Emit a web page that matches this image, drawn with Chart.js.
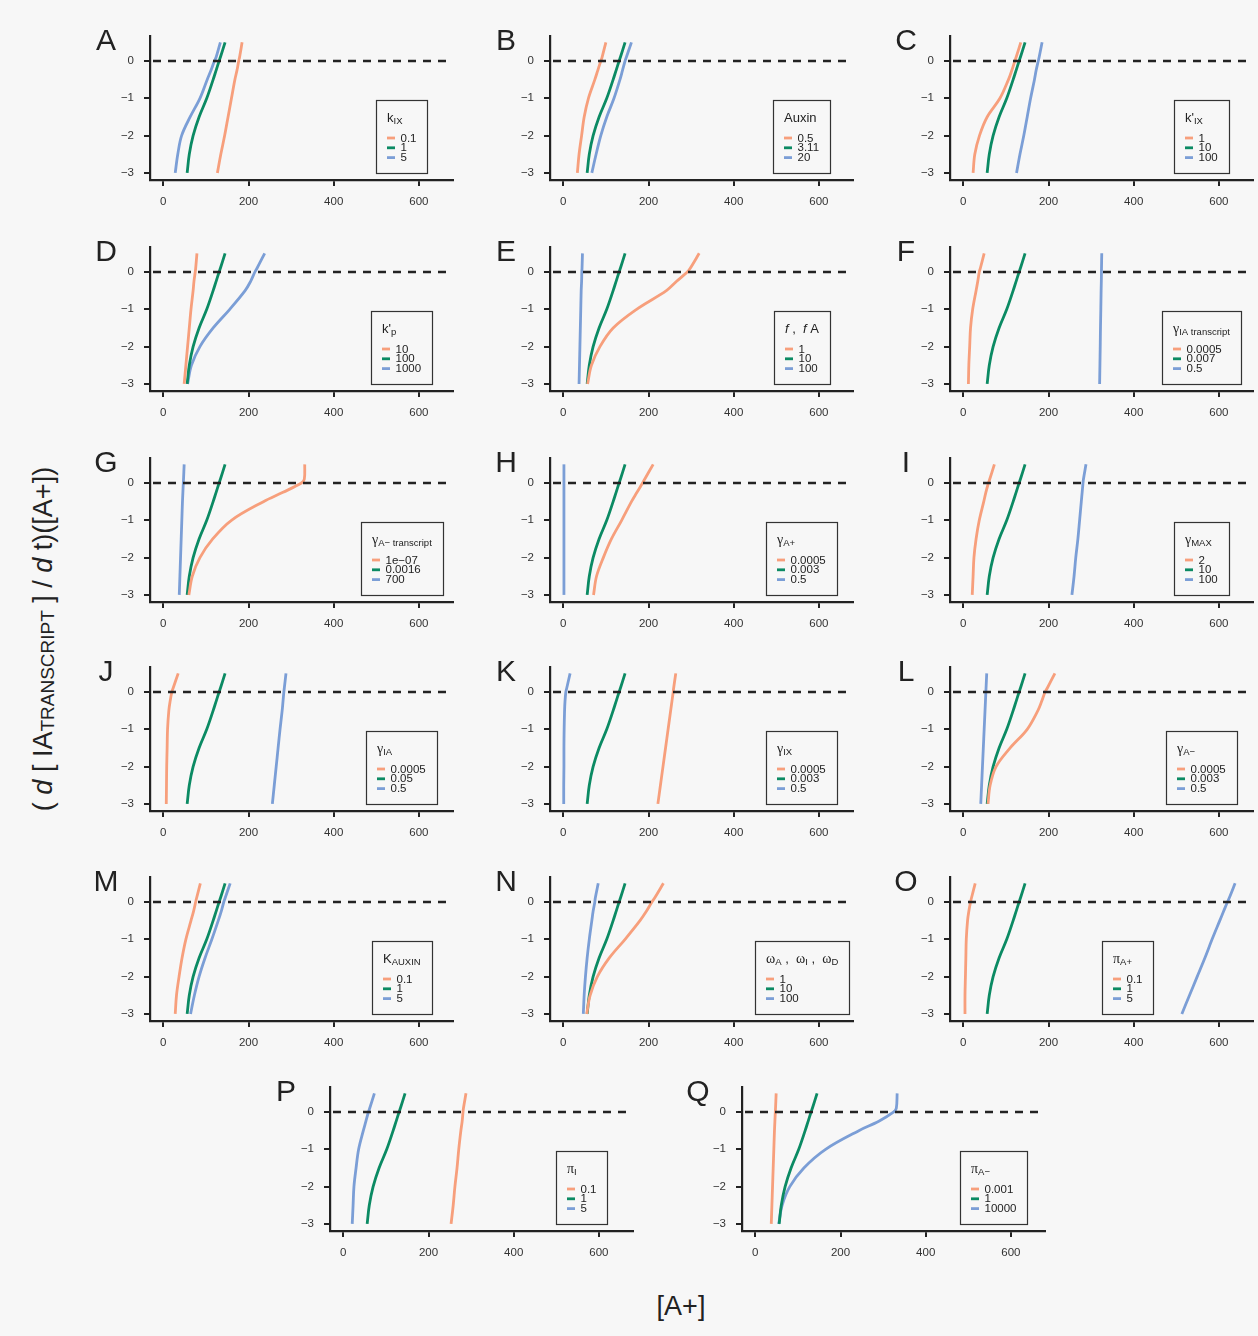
<!DOCTYPE html>
<html>
<head>
<meta charset="utf-8">
<script src="https://cdn.jsdelivr.net/npm/chart.js@4.4.1/dist/chart.umd.min.js"></script>
<style>
  body { margin: 0; background: #f7f7f7; width: 1258px; height: 1336px; position: relative; overflow: hidden; font-family: 'Liberation Sans', Arial, sans-serif; color: #222; }
  canvas { position: absolute; }
  #ylab { position: absolute; left: 43px; top: 639px; transform: translate(-50%, -50%) rotate(-90deg); white-space: nowrap; font-size: 27px; }
  #ylab .sub { font-size: 19px; vertical-align: -2px; }
  #xlab { position: absolute; left: 681px; top: 1306px; transform: translate(-50%, -50%); font-size: 27px; white-space: nowrap; }
</style>
</head>
<body>
<div id="ylab">( <i>d</i> [ IA<span class="sub">TRANSCRIPT</span> ] / <i>d</i> t)([A+])</div>
<div id="xlab">[A+]</div>
<script>
const yLevels = [-3, -2.5, -2, -1.5, -1, -0.5, -0.25, 0, 0.1, 0.5]
const xTicks = [0, 200, 400, 600]
const yTicks = [-3, -2, -1, 0]
const colors = ['#F79F7C', '#0B8A63', '#7B9ED6']

// default parameter curve (green in every panel)
const xBase = [56, 61, 70, 84, 102, 117, 124, 131, 134, 145]

const xA = [[127, 135, 144, 152, 160, 168, 173, 177, 179, 185], xBase, [28, 34, 43, 63, 86, 103, 112, 120, 124, 134]]
const xB = [[33, 37, 43, 49, 59, 74, 81, 88, 91, 100], xBase, [67, 77, 88, 102, 119, 133, 139, 145, 148, 160]]
const xC = [[23, 27, 38, 56, 86, 106, 114, 121, 124, 135], xBase, [125, 133, 142, 150, 158, 167, 171, 176, 178, 185]]
const xD = [[49, 53, 57, 61, 65, 70, 72, 75, 76, 79], xBase, [57, 66, 86, 117, 156, 192, 205, 215, 220, 238]]
const xE = [[57, 66, 86, 117, 172, 242, 266, 291, 298, 319], xBase, [37, 38, 39, 40, 41, 42, 43, 43.5, 44, 45]]
const xF = [[12, 13, 15, 17, 22, 30, 34, 37.5, 40, 49], xBase, [320, 320.7, 321.4, 322, 322.8, 323.5, 324, 324.3, 324.4, 325]]
const xG = [[60, 68, 86, 116, 160, 235, 281, 324, 331, 332], xBase, [37.5, 39, 40.5, 42, 43.5, 45, 46, 47, 47.5, 49]]
const xH = [[71, 78, 94, 113, 137, 160, 173, 186, 191, 211], xBase, [1.5, 1.5, 1.5, 1.5, 1.5, 1.5, 1.5, 1.5, 1.5, 1.5]]
const xI = [[21, 23, 25, 30, 37.5, 48, 53, 59, 62, 73], xBase, [255, 260, 264, 269, 273, 277, 279, 281, 282, 288]]
const xJ = [[7, 7.5, 8, 9, 10, 13, 16, 20, 23, 35], xBase, [256, 260.5, 265, 269.5, 274, 279, 281, 283, 284, 288]]
const xK = [[222, 228, 234, 240, 246, 252, 255, 258, 259, 264], xBase, [1, 1, 1.5, 1.5, 2, 3, 4, 6, 8, 16]]
const xL = [[58, 63, 77, 110, 150, 175, 184, 192, 197, 215], xBase, [41, 43, 45, 47, 49, 51, 52, 53, 53.4, 55]]
const xM = [[28, 31, 37, 44, 53, 65, 71, 76, 78, 87], xBase, [64, 73, 84, 98, 114, 129, 136, 142, 145, 157]]
const xN = [[55, 63, 80, 108, 145, 180, 195, 208, 214, 235], xBase, [47, 49, 52, 56, 61, 67, 70, 74, 75, 82]]
const xO = [[4, 4, 5, 6, 7, 10, 13, 17, 19, 28], xBase, [513, 531, 549, 567, 584, 602, 611, 620, 624, 638]]
const xP = [[253, 258, 262, 267, 271, 276, 279, 281, 282, 288], xBase, [21, 23, 25, 30, 36, 47, 53, 59, 62, 73]]
const xQ = [[37.5, 39, 40.5, 42, 43.5, 45, 46, 47, 47.5, 49], xBase, [55, 63, 81, 114, 165, 243, 290, 325, 331, 333]]

// legend labels
const labA = ['0.1', '1', '5']
const labB = ['0.5', '3.11', '20']
const labC = ['1', '10', '100']
const labD = ['10', '100', '1000']
const labE = ['1', '10', '100']
const labF = ['0.0005', '0.007', '0.5']
const labG = ['1e\u221207', '0.0016', '700']
const labH = ['0.0005', '0.003', '0.5']
const labI = ['2', '10', '100']
const labJ = ['0.0005', '0.05', '0.5']
const labK = ['0.0005', '0.003', '0.5']
const labL = ['0.0005', '0.003', '0.5']
const labM = ['0.1', '1', '5']
const labN = ['1', '10', '100']
const labO = ['0.1', '1', '5']
const labP = ['0.1', '1', '5']
const labQ = ['0.001', '1', '10000']

// legend titles: [text, style]  n=normal, s=subscript, g=greek, i=italic
const titleA = [['k', 'n'], ['IX', 's']]
const titleB = [['Auxin', 'n']]
const titleC = [["k'", 'n'], ['IX', 's']]
const titleD = [["k'", 'n'], ['p', 's']]
const titleE = [['f', 'i'], [' ,  ', 'n'], ['f', 'i'], [' A', 'n']]
const titleF = [['\u03b3', 'g'], ['IA transcript', 's']]
const titleG = [['\u03b3', 'g'], ['A\u2212 transcript', 's']]
const titleH = [['\u03b3', 'g'], ['A+', 's']]
const titleI = [['\u03b3', 'g'], ['MAX', 's']]
const titleJ = [['\u03b3', 'g'], ['IA', 's']]
const titleK = [['\u03b3', 'g'], ['IX', 's']]
const titleL = [['\u03b3', 'g'], ['A\u2212', 's']]
const titleM = [['K', 'n'], ['AUXIN', 's']]
const titleN = [['\u03c9', 'g'], ['A', 's'], [' ,  ', 'n'], ['\u03c9', 'g'], ['I', 's'], [' ,  ', 'n'], ['\u03c9', 'g'], ['D', 's']]
const titleO = [['\u03c0', 'g'], ['A+', 's']]
const titleP = [['\u03c0', 'g'], ['I', 's']]
const titleQ = [['\u03c0', 'g'], ['A\u2212', 's']]

// panel letter, y-axis x position, zero-line y position, data, labels, title, legend centre (x value)
const panels = [
    ['A', 150, 61, xA, labA, titleA, 560], ['B', 550, 61, xB, labB, titleB, 560], ['C', 950, 61, xC, labC, titleC, 560],
    ['D', 150, 272, xD, labD, titleD, 560], ['E', 550, 272, xE, labE, titleE, 560], ['F', 950, 272, xF, labF, titleF, 560],
    ['G', 150, 483, xG, labG, titleG, 560], ['H', 550, 483, xH, labH, titleH, 560], ['I', 950, 483, xI, labI, titleI, 560],
    ['J', 150, 692, xJ, labJ, titleJ, 560], ['K', 550, 692, xK, labK, titleK, 560], ['L', 950, 692, xL, labL, titleL, 560],
    ['M', 150, 902, xM, labM, titleM, 560], ['N', 550, 902, xN, labN, titleN, 560], ['O', 950, 902, xO, labO, titleO, 386],
    ['P', 330, 1112, xP, labP, titleP, 560], ['Q', 742, 1112, xQ, labQ, titleQ, 560]
]

const SANS = "'Liberation Sans', Arial, sans-serif"
const segFont = {
    n: '13px ' + SANS,
    s: '9.5px ' + SANS,
    i: 'italic 13px ' + SANS,
    g: "14px 'Liberation Serif', 'DejaVu Serif', serif"
}
const segDy = { n: 0, s: 2.5, i: 0, g: 0 }
const itemFont = '11.5px ' + SANS

const panelPlugin = {
    id: 'panelDecor',
    afterDatasetsDraw(chart) {
        const ctx = chart.ctx
        const y0 = chart.scales.y.getPixelForValue(0)
        ctx.save()
        ctx.strokeStyle = '#222'
        ctx.lineWidth = 2.4
        ctx.setLineDash([8, 7])
        ctx.lineDashOffset = -18
        ctx.beginPath()
        ctx.moveTo(chart.chartArea.left, y0)
        ctx.lineTo(chart.chartArea.right, y0)
        ctx.stroke()
        ctx.restore()
    },
    afterDraw(chart, args, opts) {
        const ctx = chart.ctx
        const sx = chart.scales.x, sy = chart.scales.y
        ctx.save()
        // panel letter
        ctx.fillStyle = '#222'
        ctx.font = '30px ' + SANS
        ctx.textAlign = 'center'
        ctx.textBaseline = 'alphabetic'
        ctx.fillText(opts.letter, chart.chartArea.left - 44, sy.getPixelForValue(0) - 11)

        // legend box
        ctx.textAlign = 'left'
        let tw = 0
        opts.title.forEach(([t, st]) => { ctx.font = segFont[st]; tw += ctx.measureText(t).width })
        ctx.font = itemFont
        const lw = Math.max(...opts.labels.map(l => ctx.measureText(l).width)) + 13.5
        const w = Math.round(Math.max(tw, lw) + 22)
        const h = 73
        const cx = sx.getPixelForValue(opts.legendX)
        const bottom = Math.round(sy.getPixelForValue(-3))
        const left = Math.round(cx - w / 2), top = bottom - h
        ctx.strokeStyle = '#333'
        ctx.lineWidth = 1.2
        ctx.strokeRect(left + 0.5, top + 0.5, w, h)

        let x = left + 11
        opts.title.forEach(([t, st]) => {
            ctx.font = segFont[st]
            ctx.fillText(t, x, top + 21.5 + segDy[st])
            x += ctx.measureText(t).width
        })
        opts.labels.forEach((l, i) => {
            const yc = top + 38 + i * 9.8
            ctx.strokeStyle = colors[i]
            ctx.lineWidth = 2.8
            ctx.beginPath()
            ctx.moveTo(left + 11, yc)
            ctx.lineTo(left + 19, yc)
            ctx.stroke()
            ctx.font = itemFont
            ctx.textBaseline = 'middle'
            ctx.fillText(l, left + 24.5, yc + 0.5)
        })
        ctx.restore()
    }
}

function minusFmt(v) {
    return v < 0 ? '\u2212' + Math.abs(v) : String(v)
}

function makePanel(p) {
    const [letter, axisX, zeroY, series, labels, title, legendX] = p
    const canvas = document.createElement('canvas')
    canvas.width = 366
    canvas.height = 210
    canvas.style.left = (axisX - 60) + 'px'
    canvas.style.top = (zeroY - 60) + 'px'
    document.body.appendChild(canvas)

    const datasets = series.map((xs, i) => ({
        data: yLevels.map((y, j) => ({ x: xs[j], y: y })),
        showLine: true,
        borderColor: colors[i],
        borderWidth: 2.8,
        pointRadius: 0,
        tension: 0.35,
        fill: false
    }))

    const axisCommon = {
        type: 'linear',
        grid: { drawOnChartArea: false, drawTicks: true, tickLength: 6, color: '#222', lineWidth: 2 },
        border: { display: true, color: '#222', width: 2.2 },
        ticks: { color: '#333', font: { family: SANS, size: 11.5 }, autoSkip: false, maxRotation: 0, callback: minusFmt }
    }

    new Chart(canvas, {
        type: 'scatter',
        data: { datasets: datasets },
        options: {
            responsive: false,
            animation: false,
            devicePixelRatio: 1,
            events: [],
            layout: { padding: { top: 35, right: 3, left: 0, bottom: 0 } },
            plugins: {
                legend: { display: false },
                tooltip: { enabled: false },
                panelDecor: { letter: letter, labels: labels, title: title, legendX: legendX }
            },
            scales: {
                x: Object.assign({}, axisCommon, {
                    min: -31.2, max: 680,
                    ticks: Object.assign({}, axisCommon.ticks, { padding: 9 }),
                    afterBuildTicks: s => { s.ticks = xTicks.map(v => ({ value: v })) },
                    afterFit: s => { s.height = 31 }
                }),
                y: Object.assign({}, axisCommon, {
                    min: -3.19, max: 0.67,
                    ticks: Object.assign({}, axisCommon.ticks, { padding: 10 }),
                    afterBuildTicks: s => { s.ticks = yTicks.map(v => ({ value: v })) },
                    afterFit: s => { s.width = 60 }
                })
            }
        },
        plugins: [panelPlugin]
    })
}

panels.forEach(makePanel)
</script>
</body>
</html>
